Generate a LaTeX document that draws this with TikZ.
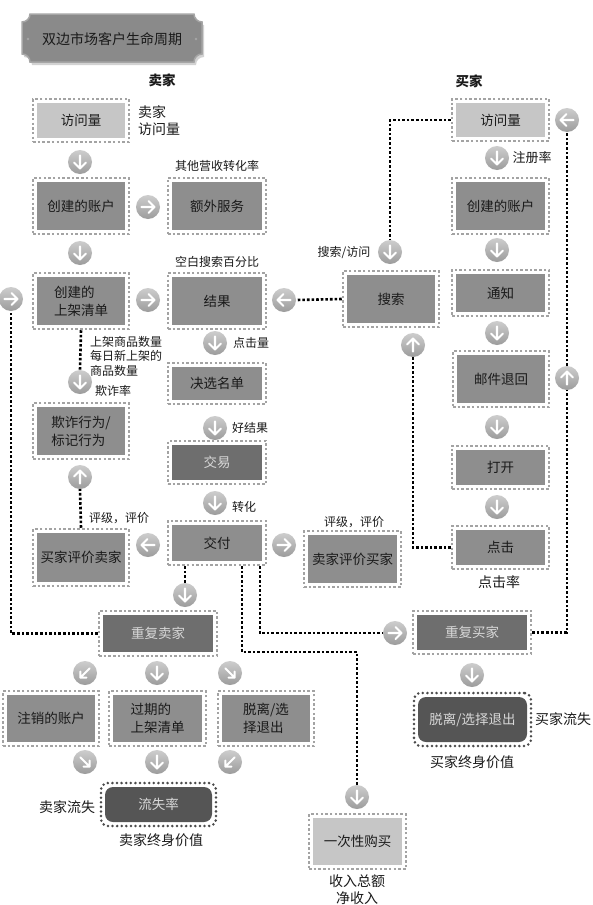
\documentclass[tikz,border=0pt]{standalone}
\usepackage{fontspec}
\setmainfont{Noto Sans CJK SC}
\usetikzlibrary{shadows,calc}
\definecolor{lightf}{HTML}{C6C6C6}
\definecolor{midf}{HTML}{8E8E8E}
\definecolor{darkf}{HTML}{6E6E6E}
\definecolor{darkestf}{HTML}{555555}
\definecolor{dotc}{HTML}{A3A3A3}
\definecolor{dotd}{HTML}{4A4A4A}
\definecolor{cirT}{HTML}{CDCDCD}
\definecolor{cirB}{HTML}{9C9C9C}
\definecolor{plaq}{HTML}{8A8A8A}
\definecolor{plaqrim}{HTML}{A6A6A6}
\definecolor{txtlight}{HTML}{D8D8D8}
\definecolor{txtdark}{HTML}{1A1A1A}
\newcommand\myboxfont{\fontsize{13.5}{18}\selectfont}
\newcommand\mylabfont{\fontsize{12}{14.5}\selectfont}
\newcommand\mybiglab{\fontsize{14}{17}\selectfont}
\tikzset{
  bx/.style={draw=dotc, line width=2.5pt, dash pattern=on 2.5pt off 2.2pt,
    minimum width=97, minimum height=56, inner sep=0pt, align=left,
    font=\myboxfont, text=txtdark,
    path picture={\fill[#1] ([shift={(3.6pt,-3.6pt)}]path picture bounding box.north west)
      rectangle ([shift={(-3.6pt,3.6pt)}]path picture bounding box.south east);}},
  dbx/.style={bx=darkf, text=txtlight},
  rbx/.style={draw=dotd, line width=2.8pt, line cap=round, dash pattern=on 0pt off 4.6pt,
    rounded corners=7pt, minimum width=116, minimum height=50, inner sep=0pt,
    font=\myboxfont, text=txtlight,
    path picture={\fill[darkestf, rounded corners=8pt] ([shift={(4pt,-4pt)}]path picture bounding box.north west)
      rectangle ([shift={(-4pt,4pt)}]path picture bounding box.south east);}},
  arrw/.style={white, line width=2.1pt, line cap=round, line join=round},
  carr/.style={circle, minimum size=24, inner sep=0pt, top color=cirT, bottom color=cirB, draw=none,
    path picture={\begin{scope}[shift={(path picture bounding box.center)}]
      \draw[arrw] #1;
      \end{scope}}},
  cright/.style={carr={(-6.5pt,0pt) -- (6.5pt,0pt) (0.5pt,6pt) -- (6.5pt,0pt) -- (0.5pt,-6pt)}},
  cleft/.style={carr={(6.5pt,0pt) -- (-6.5pt,0pt) (-0.5pt,6pt) -- (-6.5pt,0pt) -- (-0.5pt,-6pt)}},
  cdown/.style={carr={(0pt,6.5pt) -- (0pt,-6.5pt) (-6pt,-0.5pt) -- (0pt,-6.5pt) -- (6pt,-0.5pt)}},
  cup/.style={carr={(0pt,-6.5pt) -- (0pt,6.5pt) (-6pt,0.5pt) -- (0pt,6.5pt) -- (6pt,0.5pt)}},
  cdl/.style={carr={(4.6pt,4.6pt) -- (-4.6pt,-4.6pt) (1.4pt,-4.6pt) -- (-4.6pt,-4.6pt) -- (-4.6pt,1.4pt)}},
  cdr/.style={carr={(-4.6pt,4.6pt) -- (4.6pt,-4.6pt) (-1.4pt,-4.6pt) -- (4.6pt,-4.6pt) -- (4.6pt,1.4pt)}},
  lab/.style={font=\mylabfont, text=txtdark, inner sep=0pt},
  biglab/.style={font=\mybiglab, text=txtdark, inner sep=0pt},
  labB/.style={font=\fontsize{13.5}{16}\selectfont\bfseries, text=txtdark, inner sep=0pt},
  conn/.style={draw=black, line width=2.6pt, dash pattern=on 2.6pt off 2pt}
}
\begin{document}
\begin{tikzpicture}[x=1pt,y=-1pt]
\useasboundingbox[fill=white] (0,0) rectangle (593,905);

% title plaque
\fill[plaq, draw=plaqrim, line width=1.5pt, drop shadow={opacity=0.35,shadow xshift=2pt,shadow yshift=-3pt}]
  (22,22) arc[start angle=270,end angle=360,radius=8pt] -- (194,14)
  arc[start angle=180,end angle=270,radius=8pt] -- (202,54)
  arc[start angle=90,end angle=180,radius=8pt] -- (30,62)
  arc[start angle=0,end angle=90,radius=8pt] -- cycle;
\fill[plaqrim] (28,39) circle[radius=1.3pt] (196,39) circle[radius=1.3pt];
\node[font=\fontsize{14}{16}\selectfont, text=txtdark] (title) at (112,39) {双边市场客户生命周期};

% headers and labels
\node[labB] (lsell) at (162,80) {卖家};
\node[labB] (lbuy) at (469,81) {买家};
\node[biglab, anchor=west, align=left] (lsv) at (138,121) {卖家\\访问量};
\node[lab] (lextra) at (217,166) {其他营收转化率};
\node[lab] (lblank) at (217,262) {空白搜索百分比};
\node[lab] (lclick) at (251,343) {点击量};
\node[lab, anchor=west, align=left] (llist) at (90,356) {上架商品数量\\每日新上架的\\商品数量};
\node[lab] (lfraud) at (113,391) {欺诈率};
\node[lab] (lgood) at (250,428) {好结果};
\node[lab] (lconv) at (244,507) {转化};
\node[lab] (lrate1) at (119,518) {评级，评价};
\node[lab] (lrate2) at (354,522) {评级，评价};
\node[lab] (lsearch) at (344,253) {搜索/访问};
\node[lab, font=\fontsize{13}{15}\selectfont] (lreg) at (532,158) {注册率};
\node[biglab] (lctr) at (499,582) {点击率};
\node[biglab] (lbchurn) at (563,719) {买家流失};
\node[biglab] (lblv) at (472,762) {买家终身价值};
\node[biglab, align=center] (lrev) at (357,890) {收入总额\\净收入};
\node[biglab] (lschurn) at (67,807) {卖家流失};
\node[biglab] (lslv) at (161,840) {卖家终身价值};

% boxes
\node[bx=lightf, minimum width=96, minimum height=43] (sv) at (81,120.5) {访问量};
\node[bx=midf, minimum width=96] (sacc) at (81,206) {创建的账户};
\node[bx=midf, minimum width=98] (extra) at (217,206) {额外服务};
\node[bx=midf, minimum width=96] (slist) at (81,301) {创建的\\上架清单};
\node[bx=midf, minimum width=98] (result) at (217,301) {结果};
\node[bx=midf, minimum width=98, minimum height=41] (short) at (217,383.5) {决选名单};
\node[bx=midf, minimum width=96] (fraud) at (81,431) {欺诈行为/\\标记行为};
\node[dbx, minimum width=98, minimum height=43] (deal) at (217,462.5) {交易};
\node[bx=midf, minimum width=98, minimum height=44] (deliver) at (217,543) {交付};
\node[bx=midf, minimum width=96, minimum height=57] (brs) at (81,557.5) {买家评价卖家};
\node[bx=midf, minimum width=97] (bsb) at (352.5,559) {卖家评价买家};
\node[bx=midf, minimum width=96] (search) at (391,299) {搜索};
\node[bx=lightf, minimum height=42] (bv) at (500.5,120) {访问量};
\node[bx=midf] (bacc) at (500.5,206) {创建的账户};
\node[bx=midf, minimum height=46] (notify) at (500.5,293) {通知};
\node[bx=midf, minimum width=96] (bounce) at (501,379) {邮件退回};
\node[bx=midf, minimum height=43] (open) at (500.5,467.5) {打开};
\node[bx=midf, minimum height=43] (click) at (500.5,547.5) {点击};
\node[dbx, minimum width=118, minimum height=43] (rbuyer) at (472,632.5) {重复买家};
\node[rbx, minimum width=117, minimum height=53] (bchurn) at (472.5,719.5) {脱离/选择退出};
\node[bx=lightf, minimum height=55] (once) at (357.5,841.5) {一次性购买};
\node[dbx, minimum width=118, minimum height=45] (rseller) at (158,633.5) {重复卖家};
\node[bx=midf, minimum width=96, minimum height=55] (closed) at (51,718.5) {注销的账户};
\node[bx=midf, minimum height=55] (expired) at (157.5,718.5) {过期的\\上架清单};
\node[bx=midf, minimum width=96, minimum height=55] (optout) at (266,718.5) {脱离/选\\择退出};
\node[rbx, minimum width=115, minimum height=43] (schurn) at (158.5,804.5) {流失率};

% circle arrows
\node[cdown] (c1) at (80,162) {};
\node[cright] (c2) at (148,207) {};
\node[cdown] (c3) at (80,253) {};
\node[cright] (c4) at (148,300) {};
\node[cleft] (c5) at (284,300) {};
\node[cright] (c6) at (11,299) {};
\node[cdown] (c7) at (80,382) {};
\node[cdown] (c8) at (215,343) {};
\node[cdown] (c9) at (215,428) {};
\node[cdown] (c10) at (215,503) {};
\node[cup] (c11) at (80,477) {};
\node[cleft] (c12) at (148,545) {};
\node[cright] (c13) at (284,545) {};
\node[cdown] (c14) at (185,595) {};
\node[cdl] (c15) at (85,673) {};
\node[cdown] (c16) at (157,673) {};
\node[cdr] (c17) at (230,673) {};
\node[cdr] (c18) at (85,762) {};
\node[cdown] (c19) at (157,762) {};
\node[cdl] (c20) at (230,762) {};
\node[cdown] (c21) at (357,797) {};
\node[cright] (c22) at (395,633) {};
\node[cdown] (c23) at (472,675) {};
\node[cleft] (c24) at (567,120) {};
\node[cup] (c25) at (567,378) {};
\node[cdown] (c26) at (497,158) {};
\node[cdown] (c27) at (497,250) {};
\node[cdown] (c28) at (497,333) {};
\node[cdown] (c29) at (497,427) {};
\node[cdown] (c30) at (497,507) {};
\node[cdown] (c31) at (390,252) {};
\node[cup] (c32) at (413,345) {};

% dotted connectors
\coordinate (k1) at (242,652);
\coordinate (k2) at (260,633);
\draw[conn] (bv.west) -| (c31.north);
\draw[conn] (search.west) -- (c5.east);
\draw[conn] (click.west) -| (c32.south);
\draw[conn] (rbuyer.east) -| (c25.south);
\draw[conn] (c25.north) -- (c24.south);
\draw[conn] (c14.north |- deliver.south) -- (c14.north);
\draw[conn] (k2 |- deliver.south) |- (c22.west);
\draw[conn] (k1 |- deliver.south) -- (k1) -| (c21.north);
\draw[conn] (rseller.west) -| (c6.south);
\draw[conn] (slist.south) -- (c7.north);
\draw[conn] (brs.north) -- (c11.south);
\end{tikzpicture}
\end{document}
